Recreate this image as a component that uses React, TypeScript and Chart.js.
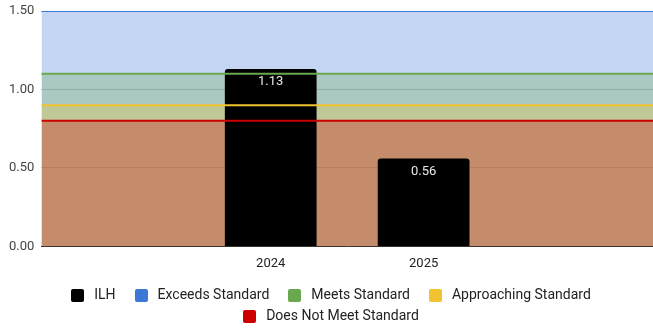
import React, { useEffect, useRef } from "react";
import { Chart, registerables } from "chart.js";

Chart.register(...registerables);

// Categories along the bottom; the outer two are empty slots that frame the bars.
const categories = ["", "2024", "2025", ""];
const ilhValues = [null, 1.13, 0.56, null];

// Performance-band thresholds drawn as filled horizontal lines.
const bandNames = ["Exceeds Standard", "Meets Standard", "Approaching Standard", "Does Not Meet Standard"];
const bandLevels = [1.5, 1.1, 0.9, 0.8];
const bandColors = ["#3c78d8", "#6aa84f", "#f1c232", "#cc0000"];
const bandFills = ["rgba(60,120,216,0.3)", "rgba(106,168,79,0.3)", "rgba(241,194,50,0.3)", "rgba(204,0,0,0.3)"];

const yTicks = [0, 0.5, 1.0, 1.5];

const FONT = "Roboto, 'Noto Sans', sans-serif";

// Writes each bar's value just inside its top edge.
const barValueLabels = {
  id: "barValueLabels",
  afterDatasetsDraw(chart: any) {
    const meta = chart.getDatasetMeta(0);
    const ctx = chart.ctx;
    ctx.save();
    ctx.font = `13px ${FONT}`;
    ctx.fillStyle = "#e8e8e8";
    ctx.textAlign = "center";
    ctx.textBaseline = "middle";
    meta.data.forEach((bar: any, i: number) => {
      const v = ilhValues[i];
      if (v == null) return;
      ctx.fillText(v.toFixed(2), bar.x, bar.y + 13);
    });
    ctx.restore();
  },
};

// Legend drawn below the axis: square swatch, label, rows wrapped and centred.
const bottomLegend = {
  id: "bottomLegend",
  afterDraw(chart: any) {
    const ctx = chart.ctx;
    const box = 13;
    const textGap = 10;
    const itemGap = 19;
    const rowHeight = 21;
    const firstRowY = 295;
    const centerX = 331;
    const maxRow = chart.width - 40;
    ctx.save();
    ctx.font = `14px ${FONT}`;
    ctx.textBaseline = "middle";
    ctx.textAlign = "left";
    const items = chart.data.datasets.map((ds: any) => ({
      text: ds.label,
      color: ds.type === "bar" ? "#000000" : ds.borderColor,
      width: box + textGap + ctx.measureText(ds.label).width,
    }));
    const rows: any[][] = [[]];
    let rowW = 0;
    items.forEach((it: any) => {
      const add = (rows[rows.length - 1].length ? itemGap : 0) + it.width;
      if (rows[rows.length - 1].length && rowW + add > maxRow) {
        rows.push([it]);
        rowW = it.width;
      } else {
        rows[rows.length - 1].push(it);
        rowW += add;
      }
    });
    rows.forEach((row, r) => {
      const total = row.reduce((s, it) => s + it.width, 0) + itemGap * (row.length - 1);
      let x = centerX - total / 2;
      const y = firstRowY + r * rowHeight;
      row.forEach((it) => {
        ctx.fillStyle = it.color;
        ctx.beginPath();
        (ctx as any).roundRect(Math.round(x), Math.round(y - box / 2), box, box, 2);
        ctx.fill();
        ctx.fillStyle = "#222222";
        ctx.fillText(it.text, x + box + textGap, y);
        x += it.width + itemGap;
      });
    });
    ctx.restore();
  },
};

export default function App() {
  const canvasRef = useRef<HTMLCanvasElement | null>(null);

  useEffect(() => {
    document.body.style.margin = "0";
    const canvas = canvasRef.current;
    if (!canvas) return;

    const bandDatasets = bandNames.map((name, i) => ({
      type: "line" as const,
      label: name,
      xAxisID: "x2",
      data: [
        { x: 0, y: bandLevels[i] },
        { x: 1, y: bandLevels[i] },
      ],
      borderColor: bandColors[i],
      backgroundColor: bandColors[i],
      borderWidth: 2,
      pointRadius: 0,
      fill: { target: "origin", above: bandFills[i] },
      order: 4 - i,
    }));

    const chart = new Chart(canvas, {
      type: "bar",
      data: {
        labels: categories,
        datasets: [
          {
            type: "bar",
            label: "ILH",
            data: ilhValues as any,
            backgroundColor: "#000000",
            borderRadius: { topLeft: 3, topRight: 3, bottomLeft: 0, bottomRight: 0 },
            borderSkipped: false,
            categoryPercentage: 1,
            barPercentage: 0.6,
            grouped: false,
            order: 5,
          },
          ...bandDatasets,
        ] as any,
      },
      options: {
        animation: false,
        responsive: false,
        maintainAspectRatio: false,
        layout: { padding: { left: 2, right: 0, top: 0, bottom: 48 } },
        scales: {
          x: {
            grid: { display: false, drawTicks: false },
            border: { display: true, color: "#333333", width: 1 },
            ticks: { color: "#222222", font: { family: FONT, size: 13 }, padding: 10 },
          },
          x2: {
            type: "linear",
            display: false,
            offset: false,
            min: 0,
            max: 1,
          },
          y: {
            min: 0,
            max: 1.5,
            afterBuildTicks(scale: any) {
              scale.ticks = yTicks.map((v) => ({ value: v }));
            },
            grid: { color: "#cccccc", drawTicks: false },
            border: { display: false },
            ticks: {
              color: "#444444",
              font: { family: FONT, size: 13, lineHeight: 0.62 },
              padding: 7,
              callback: (v: any) => Number(v).toFixed(2),
            },
          },
        },
        plugins: {
          filler: { drawTime: "beforeDatasetsDraw" },
          tooltip: { enabled: false },
          legend: { display: false },
        },
      },
      plugins: [barValueLabels, bottomLegend],
    });

    return () => chart.destroy();
  }, []);

  return (
    <div style={{ width: 653, height: 330 }}>
      <canvas ref={canvasRef} width={653} height={330} />
    </div>
  );
}
